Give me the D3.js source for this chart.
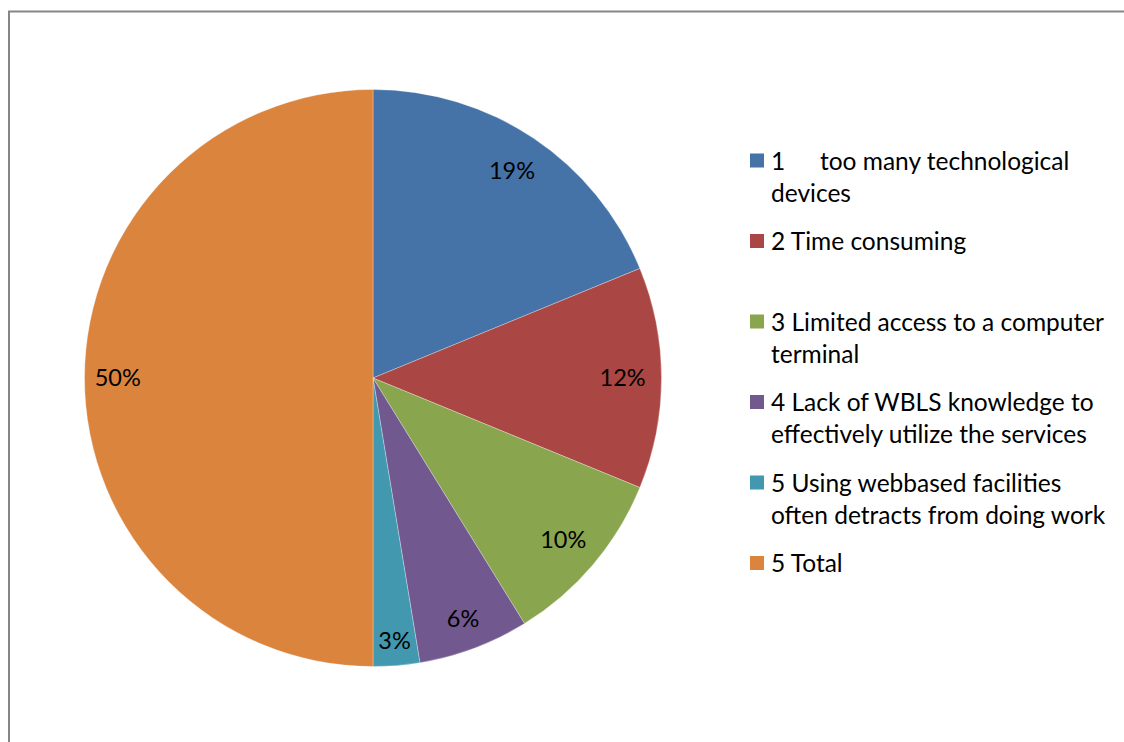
<!DOCTYPE html>
<html>
<head>
<meta charset="utf-8">
<script src="https://cdn.jsdelivr.net/npm/d3@7"></script>
<style>
  html, body { margin: 0; padding: 0; background: #fff; }
  svg { display: block; }
  text { font-family: Lato, "Open Sans", sans-serif; fill: #000; }
</style>
</head>
<body>
<svg id="chart" width="1124" height="742"></svg>
<script>
// Reasons given, in the order the slices run clockwise from 12 o'clock
const categories = [
  "1\ttoo many technological\ndevices",
  "2 Time consuming",
  "3 Limited access to a computer\nterminal",
  "4 Lack of WBLS knowledge to\neffectively utilize the services",
  "5 Using webbased facilities\noften detracts from doing work",
  "5 Total"
];
// Share of responses (percent)
const values = [18.8, 12.4, 10.0, 6.2, 2.6, 50.0];
const colors = ["#4572A7", "#AA4643", "#89A54E", "#71588F", "#4198AF", "#DB843D"];

const svg = d3.select("#chart");

// chart-area frame (runs off the right and bottom edges)
svg.append("rect")
  .attr("x", 9).attr("y", 11.5)
  .attr("width", 1300).attr("height", 900)
  .attr("fill", "none")
  .attr("stroke", "#868686")
  .attr("stroke-width", 2);

const cx = 373, cy = 378, R = 288.5;
const data = categories.map((c, i) => ({ name: c, value: values[i], color: colors[i] }));
const total = d3.sum(values);

const pie = d3.pie().value(d => d.value).sort(null);
const arc = d3.arc().innerRadius(0).outerRadius(R);

const g = svg.append("g").attr("transform", `translate(${cx},${cy})`);
const arcs = pie(data);

g.selectAll("path.slice")
  .data(arcs)
  .enter().append("path")
  .attr("class", "slice")
  .attr("d", arc)
  .attr("fill", d => d.data.color)
  .attr("stroke", "#ffffff")
  .attr("stroke-opacity", 0.5)
  .attr("stroke-width", 0.6);

// percentage labels inside the slices
const pct = v => Math.round(v / total * 100) + "%";
const labelRadius = d => {
  const share = d.data.value / total;
  if (share < 0.04) return R * 0.915;
  if (share < 0.08) return R * 0.89;
  if (share >= 0.5) return R * 0.885;
  return R * 0.865;
};
g.selectAll("text.pct")
  .data(arcs)
  .enter().append("text")
  .attr("class", "pct")
  .attr("transform", d => {
    const a = (d.startAngle + d.endAngle) / 2;
    const r = labelRadius(d);
    return `translate(${Math.sin(a) * r},${-Math.cos(a) * r})`;
  })
  .attr("text-anchor", "middle")
  .attr("dy", "0.35em")
  .style("font-size", "23.5px")
  .text(d => pct(d.data.value));

// legend
const legendX = 750, legendTop = 161, slot = 80.5, lineH = 32;
const leg = svg.append("g");
data.forEach((d, i) => {
  const y0 = legendTop + i * slot;
  leg.append("rect")
    .attr("x", legendX).attr("y", y0 - 7.5)
    .attr("width", 14).attr("height", 14)
    .attr("fill", d.color);
  const lines = d.name.split("\n");
  lines.forEach((ln, j) => {
    const y = y0 + j * lineH;
    const parts = ln.split("\t");
    const t = leg.append("text")
      .attr("x", legendX + 21).attr("y", y)
      .attr("dy", "0.35em")
      .style("font-size", "24.5px");
    if (parts.length > 1) {
      t.append("tspan").text(parts[0]);
      t.append("tspan").attr("x", legendX + 70).text(parts[1]);
    } else {
      t.text(ln);
    }
  });
});
</script>
</body>
</html>
